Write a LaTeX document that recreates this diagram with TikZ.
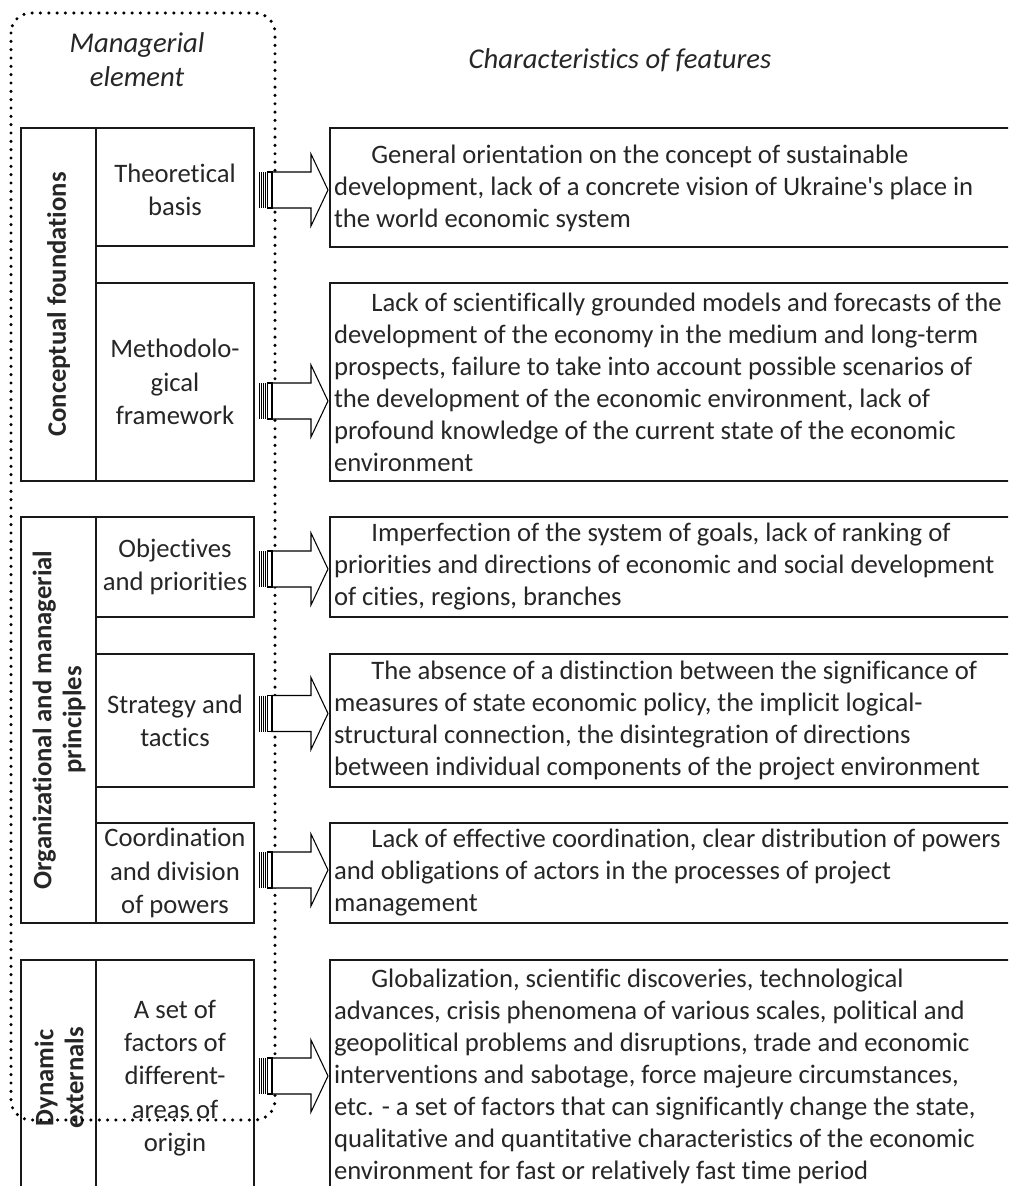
\documentclass[tikz,border=0pt]{standalone}
\usepackage{fontspec}
\setmainfont{Carlito}[Ligatures={NoCommon}]
\usetikzlibrary{fit,calc}

% block arrow with a striped tail, drawn from the east side of a node
\newcommand\featarrow[2]{%
  \begin{scope}[shift={($(#1.east)+(5,#2)$)}]
    \draw[line width=0.8pt, fill=white]
      (13,-18) -- (52,-18) -- (52,-36) -- (69,0) -- (52,36) -- (52,18) -- (13,18) -- cycle;
    \foreach \t in {0.7,2.7,4.7,6.7} \draw[line width=1pt] (\t,-18) -- (\t,18);
    \draw[line width=0.9pt, fill=white] (8.8,-18) rectangle (13,18);
  \end{scope}}

\begin{document}
\begin{tikzpicture}[x=0.75pt,y=-0.75pt,
  every node/.style={inner sep=0pt, outer sep=0pt},
  body/.style={font=\fontsize{20}{24}\selectfont, text=black!85},
  head/.style={body, font=\fontsize{21.5}{25.5}\selectfont\itshape, align=center},
  cell/.style={draw=black!90, line width=1.7pt, fit={#1}},
  descbox/.style={draw=black!90, line width=1.6pt, fit={#1}},
  grouptxt/.style={body, font=\fontsize{20}{22.5}\selectfont\bfseries, rotate=90, align=center},
  celltxt/.style={body, align=center, font=\fontsize{20}{25}\selectfont},
  desctxt/.style={body, anchor=west, align=left},
  frame/.style={line width=2.6pt, line cap=round, dash pattern=on 0pt off 6.25pt}]

\clip (0,0) rectangle (1008,1186);

% column headings
\node[head] (hl) at (137,60) {Managerial\\element};
\node[head] (hr) at (620,60) {Characteristics of features};

% left column: groups and their elements
\node[cell={(21,128)(96,481)}] (g1) {};
\node[cell={(96,128)(254,246)}] (tb) {};
\node[cell={(96,283)(254,481)}] (mf) {};
\node[cell={(21,517)(96,923)}] (g2) {};
\node[cell={(96,517)(254,617)}] (op) {};
\node[cell={(96,654)(254,787)}] (st) {};
\node[cell={(96,823)(254,923)}] (cd) {};
\node[cell={(21,960)(96,1196)}] (g3) {};
\node[cell={(96,960)(254,1196)}] (sf) {};

\node[grouptxt] at (g1.center) {Conceptual foundations};
\node[grouptxt] at ([xshift=0.5pt]g2.center) {Organizational and managerial\\principles};
\node[grouptxt] at ([xshift=0.5pt]g3.center) {Dynamic\\externals};

\node[celltxt] at ([yshift=-2pt]tb.center) {Theoretical\\basis};
\node[celltxt] at (mf.center) {Methodolo-\\gical\\framework};
\node[celltxt] at (op.center) {Objectives\\and priorities};
\node[celltxt] at (st.center) {Strategy and\\tactics};
\node[celltxt] at (cd.center) {Coordination\\and division\\of powers};
\node[celltxt] at (sf.center) {A set of\\factors of\\different-\\areas of\\origin};

% right column: characteristics
\node[descbox={(330,128)(1014,247)}, line width=2.2pt] (r1) {};
\node[descbox={(330,283)(1014,481)}] (r2) {};
\node[descbox={(330,517)(1014,617)}] (r3) {};
\node[descbox={(330,654)(1014,787)}] (r4) {};
\node[descbox={(330,823)(1014,923)}] (r5) {};
\node[descbox={(330,960)(1014,1196)}] (r6) {};

\node[desctxt] at ([xshift=3pt,yshift=-1pt]r1.west) {\hspace*{28pt}General orientation on the concept of sustainable\\development, lack of a concrete vision of Ukraine\textquotesingle s place in\\the world economic system};
\node[desctxt] at ([xshift=3pt]r2.west) {\hspace*{28pt}Lack of scientifically grounded models and forecasts of the\\development of the economy in the medium and long-term\\prospects, failure to take into account possible scenarios of\\the development of the economic environment, lack of\\profound knowledge of the current state of the economic\\environment};
\node[desctxt] at ([xshift=3pt]r3.west) {\hspace*{28pt}Imperfection of the system of goals, lack of ranking of\\priorities and directions of economic and social development\\of cities, regions, branches};
\node[desctxt] at ([xshift=3pt]r4.west) {\hspace*{28pt}The absence of a distinction between the significance of\\measures of state economic policy, the implicit logical-\\structural connection, the disintegration of directions\\between individual components of the project environment};
\node[desctxt] at ([xshift=3pt]r5.west) {\hspace*{28pt}Lack of effective coordination, clear distribution of powers\\and obligations of actors in the processes of project\\management};
\node[desctxt] at ([xshift=3pt,yshift=1pt]r6.west) {\hspace*{28pt}Globalization, scientific discoveries, technological\\advances, crisis phenomena of various scales, political and\\geopolitical problems and disruptions, trade and economic\\interventions and sabotage, force majeure circumstances,\\etc. - a set of factors that can significantly change the state,\\qualitative and quantitative characteristics of the economic\\environment for fast or relatively fast time period};

% dotted frame around the managerial elements
\draw[frame, rounded corners=15] (11,13) rectangle (275,1120);

% arrows from elements to their characteristics
\featarrow{tb}{3}
\featarrow{mf}{19}
\featarrow{op}{2}
\featarrow{st}{-7}
\featarrow{cd}{-3}
\featarrow{sf}{-2}
\end{tikzpicture}
\end{document}
